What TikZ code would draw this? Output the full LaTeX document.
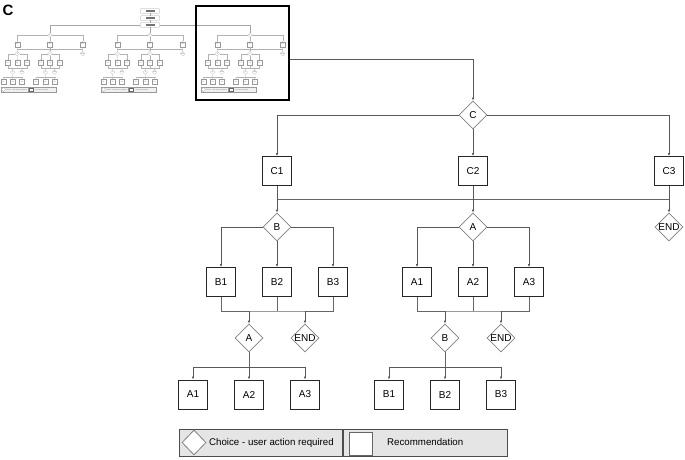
\documentclass[tikz,border=0pt]{standalone}
\usepackage{fontspec}
\setmainfont{Liberation Sans}
\usetikzlibrary{arrows.meta,shapes.geometric}

\newcommand{\tight}[1]{\makebox[0pt]{#1}}
\newcommand{\smudge}{\textcolor{black!55}{\rule[-0.3pt]{9pt}{1.1pt}}}

% one decision tree, drawn round its root at (0,0)
% #1 prefix, #2 root choice, #3 left choice, #4 right choice
\newcommand{\choicetree}[4]{%
  \node[choice] (#1-r) at (0,0) {\tight{#2}};
  \node[rec] (#1-k1) at (-196,56) {#21};
  \node[rec] (#1-k2) at (0,56) {#22};
  \node[rec] (#1-k3) at (196,56) {#23};
  \node[choice] (#1-dl) at (-196,112) {\tight{#3}};
  \node[choice] (#1-dr) at (0,112) {\tight{#4}};
  \node[choice] (#1-e3) at (196,112) {\tight{END}};
  \node[rec] (#1-l1) at (-252,167) {#31};
  \node[rec] (#1-l2) at (-196,167) {#32};
  \node[rec] (#1-l3) at (-140,167) {#33};
  \node[rec] (#1-r1) at (-56,167) {#41};
  \node[rec] (#1-r2) at (0,167) {#42};
  \node[rec] (#1-r3) at (56,167) {#43};
  \node[choice] (#1-dll) at (-224,223) {\tight{#4}};
  \node[choice] (#1-el) at (-168,223) {\tight{END}};
  \node[choice] (#1-drr) at (-28,223) {\tight{#3}};
  \node[choice] (#1-er) at (28,223) {\tight{END}};
  \node[rec] (#1-ll1) at (-280,279.5) {#41};
  \node[rec] (#1-ll2) at (-224,279.5) {#42};
  \node[rec] (#1-ll3) at (-168,279.5) {#43};
  \node[rec] (#1-rr1) at (-84,279.5) {#31};
  \node[rec] (#1-rr2) at (-28,279.5) {#32};
  \node[rec] (#1-rr3) at (28,279.5) {#33};
  % key
  \node[keybox,minimum width=163pt] (#1-kl) at (-212.5,327.5) {};
  \node[keybox,minimum width=164pt] (#1-kr) at (-48,327.5) {};
  \node[choice,minimum width=24pt,minimum height=25pt] (#1-kd) at (-279,327.5) {};
  \node[keytext] (#1-kt) at (-264,327.5) {Choice - user action required};
  \node[rec,minimum width=23pt,minimum height=23pt,line width=.6pt,draw=black!60] (#1-ks) at (-112.5,328.5) {};
  \node[keytext] (#1-ku) at (-86,327.5) {Recommendation};
  % connectors
  \coordinate (#1-bus) at (0,84);
  \coordinate (#1-lb) at (-196,196);
  \coordinate (#1-rb) at (0,196);
  \coordinate (#1-lc) at (-224,252);
  \coordinate (#1-rc) at (-28,252);
  \draw[link] (#1-r.west) -| (#1-k1);
  \draw[link] (#1-r.east) -| (#1-k3);
  \draw[link] (#1-r) -- (#1-k2);
  \draw[wire] (#1-k1 |- #1-bus) -- (#1-k3 |- #1-bus);
  \draw[link] (#1-k1) -- (#1-dl);
  \draw[link] (#1-k2) -- (#1-dr);
  \draw[link] (#1-k3) -- (#1-e3);
  \draw[link] (#1-dl.west) -| (#1-l1);
  \draw[link] (#1-dl.east) -| (#1-l3);
  \draw[link] (#1-dl) -- (#1-l2);
  \draw[link] (#1-dr.west) -| (#1-r1);
  \draw[link] (#1-dr.east) -| (#1-r3);
  \draw[link] (#1-dr) -- (#1-r2);
  \draw[wire] (#1-l1) |- (#1-lb) -| (#1-l3);
  \draw[wire] (#1-l2) -- (#1-lb);
  \draw[wire] (#1-r1) |- (#1-rb) -| (#1-r3);
  \draw[wire] (#1-r2) -- (#1-rb);
  \draw[link] (#1-dll |- #1-lb) -- (#1-dll);
  \draw[link] (#1-el |- #1-lb) -- (#1-el);
  \draw[link] (#1-drr |- #1-rb) -- (#1-drr);
  \draw[link] (#1-er |- #1-rb) -- (#1-er);
  \draw[wire] (#1-dll) -- (#1-lc);
  \draw[link] (#1-lc) -| (#1-ll1);
  \draw[link] (#1-lc) -| (#1-ll3);
  \draw[link] (#1-lc) -- (#1-ll2);
  \draw[wire] (#1-drr) -- (#1-rc);
  \draw[link] (#1-rc) -| (#1-rr1);
  \draw[link] (#1-rc) -| (#1-rr3);
  \draw[link] (#1-rc) -- (#1-rr2);
}

\begin{document}
\begin{tikzpicture}[x=1pt,y=-1pt,
  rec/.style={draw=black!85,fill=white,line width=0.9pt,minimum width=29pt,
    minimum height=29pt,inner sep=0pt,font=\fontsize{10}{12}\selectfont},
  choice/.style={diamond,draw=black!50,fill=white,line width=0.8pt,minimum width=28pt,
    minimum height=28pt,inner sep=0pt,font=\fontsize{10}{12}\selectfont},
  keybox/.style={draw=black!70,fill=black!10,line width=0.8pt,minimum height=27pt,inner sep=0pt},
  keytext/.style={anchor=west,inner sep=0pt,font=\fontsize{9.7}{11}\selectfont},
  wire/.style={draw=black!60,line width=0.7pt},
  link/.style={draw=black!65,line width=0.7pt,-{Latex[length=3pt,width=2.6pt]}},
  startbox/.style={draw=black!35,fill=white,rounded corners=0.6pt,line width=.3pt,
    minimum width=19pt,minimum height=4.5pt,inner sep=0pt},
  tlink/.style={draw=black!35,line width=.3pt},
  viewbox/.style={draw=black,line width=2.4pt,minimum width=93pt,minimum height=94pt,inner sep=0pt},
  mini/.style={scale=1/6,transform shape,text=black!55,
    rec/.append style={line width=.25pt,draw=black!40},
    choice/.append style={line width=.2pt,draw=black!30},
    keybox/.append style={line width=.2pt,draw=black!40,fill=black!6},
    wire/.append style={line width=.2pt,draw=black!30},
    link/.append style={line width=.2pt,draw=black!30,-{Latex[length=.8pt,width=.7pt]}}}
]
\useasboundingbox (0,0) rectangle (685,459);
\node[font=\bfseries\fontsize{15}{15}\selectfont] (panel) at (8,10) {C};

% overview of the whole tree
\node[startbox] (s1) at (150,11) {\smudge};
\node[startbox] (s2) at (150,18) {\smudge};
\node[startbox] (s3) at (150,25) {\smudge};
\begin{scope}[shift={(50,35)},mini]
  \choicetree{ta}{A}{B}{C}
\end{scope}
\begin{scope}[shift={(150,35)},mini]
  \choicetree{tb}{B}{A}{C}
\end{scope}
\begin{scope}[shift={(250,35)},mini]
  \choicetree{tc}{C}{B}{A}
\end{scope}
\draw[tlink] (s1) -- (s2);
\draw[tlink] (s2) -- (s3);
\draw[tlink] (s3.west) -| (ta-r);
\draw[tlink] (s3.east) -| (tc-r);
\draw[tlink] (s3) -- (tb-r);
\node[viewbox] (zoom) at (242.5,53) {};

% enlarged branch
\begin{scope}[shift={(473,115)}]
  \choicetree{m}{C}{B}{A}
\end{scope}
\draw[link] ([yshift=-6pt]zoom.east) -| (m-r);
\end{tikzpicture}
\end{document}
